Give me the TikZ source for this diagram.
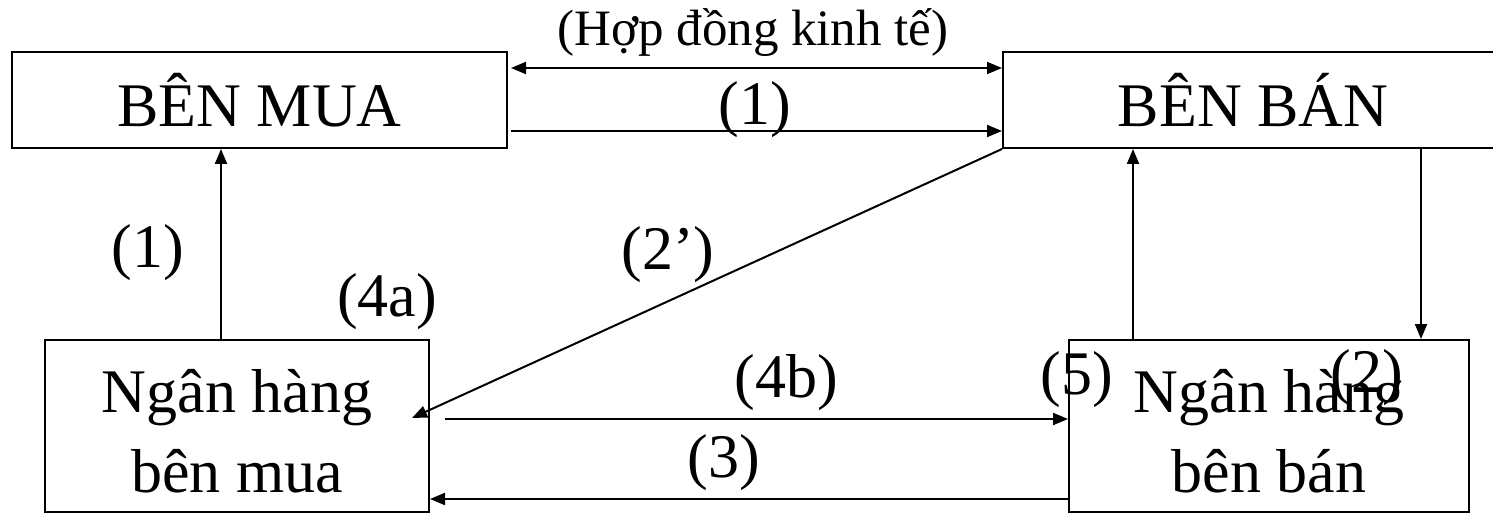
\documentclass[tikz,border=0pt]{standalone}
\usepackage{fontspec}
\setmainfont{Liberation Serif}
\usetikzlibrary{arrows.meta}
\begin{document}
\begin{tikzpicture}[x=0.5pt,y=-0.5pt,
  box/.style={draw,line width=1pt,inner sep=0pt,font=\fontsize{31}{40}\selectfont,align=center},
  lab/.style={inner sep=0pt,font=\fontsize{31}{36}\selectfont},
  conn/.style={line width=1pt,-{Triangle[length=7.5pt,width=6pt]}},
  conn2/.style={line width=1pt,{Triangle[length=7.5pt,width=6pt]}-{Triangle[length=7.5pt,width=6pt]}}]
\useasboundingbox (0,0) rectangle (1493,513);
\node[box,minimum width=247.5pt,minimum height=48pt] (mua) at (259.5,100) {BÊN MUA};
\node[box,minimum width=250pt,minimum height=48pt] (ban) at (1253,100) {BÊN BÁN};
\node[box,minimum width=192pt,minimum height=86pt] (nmua) at (237,426) {\raisebox{-5pt}[\height][\depth]{\begin{tabular}{@{}c@{}}Ngân hàng\\bên mua\end{tabular}}};
\node[box,minimum width=200pt,minimum height=86pt] (nban) at (1269,426) {\raisebox{-5pt}[\height][\depth]{\begin{tabular}{@{}c@{}}Ngân hàng\\bên bán\end{tabular}}};
% helper coordinates
\coordinate (y68) at (0,68);
\coordinate (y131) at (0,131);
\coordinate (y419) at (0,419);
\coordinate (y499) at (0,499);
\coordinate (x221) at (221,0);
\coordinate (x1133) at (1133,0);
\coordinate (x1421) at (1421,0);
\coordinate (t2p) at (412,418);
\coordinate (s4b) at (445,419);
% connectors
\draw[conn2] ([xshift=1.5pt]mua.east |- y68) -- (ban.west |- y68);
\draw[conn] ([xshift=1.5pt]mua.east |- y131) -- (ban.west |- y131);
\draw[conn] (nmua.north -| x221) -- (mua.south -| x221);
\draw[conn] (ban.south west) -- (t2p);
\draw[conn] (s4b) -- (nban.west |- y419);
\draw[conn] (nban.west |- y499) -- (nmua.east |- y499);
\draw[conn] (nban.north -| x1133) -- (ban.south -| x1133);
\draw[conn] (ban.south -| x1421) -- (nban.north -| x1421);
% labels
\node[inner sep=0pt,font=\fontsize{25.5}{30}\selectfont] (hd) at (753,33) {(Hợp đồng kinh tế)};
\node[lab] (l1a) at (755,110) {(1)};
\node[lab] (l1b) at (148,253) {(1)};
\node[lab] (l4a) at (387,302) {(4a)};
\node[lab] (l2p) at (668,255) {(2’)};
\node[lab] (l4b) at (786,383) {(4b)};
\node[lab] (l3) at (724,463) {(3)};
\node[lab] (l5) at (1077,380) {(5)};
\node[lab] (l2) at (1367,378) {(2)};
\end{tikzpicture}
\end{document}
